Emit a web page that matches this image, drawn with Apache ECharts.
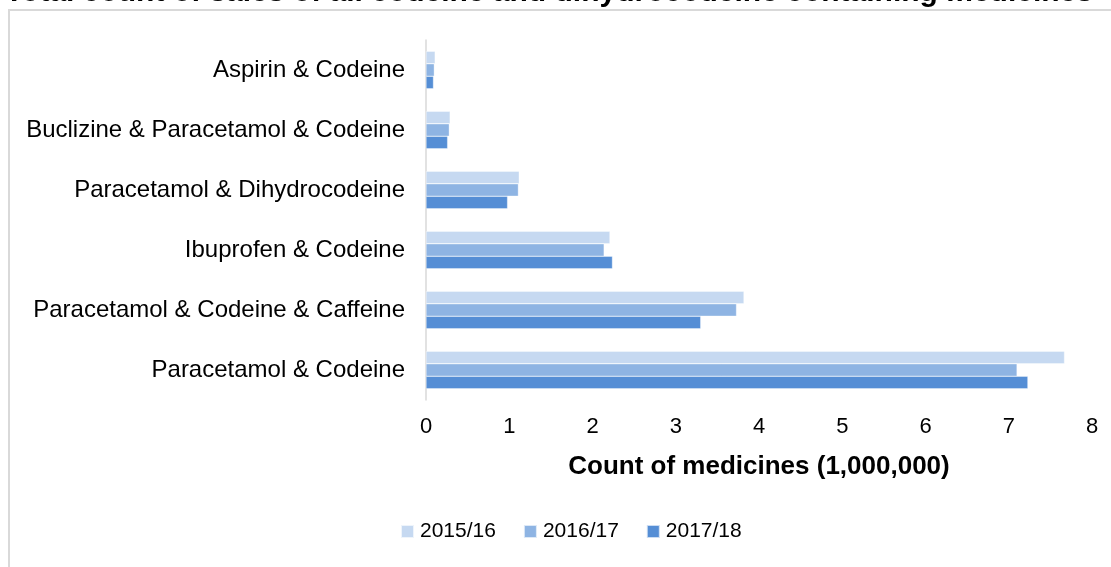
<!DOCTYPE html>
<html>
<head>
<meta charset="utf-8">
<script src="https://cdn.jsdelivr.net/npm/echarts@6/dist/echarts.min.js"></script>
<style>
  html, body { margin: 0; padding: 0; background: #fff; }
  #chart { width: 1111px; height: 567px; }
</style>
</head>
<body>
<div id="chart"></div>
<script>
// categories listed bottom to top (as drawn on the category axis)
const categories = [
  'Paracetamol & Codeine',
  'Paracetamol & Codeine & Caffeine',
  'Ibuprofen & Codeine',
  'Paracetamol & Dihydrocodeine',
  'Buclizine & Paracetamol & Codeine',
  'Aspirin & Codeine'
]
const years = ['2015/16', '2016/17', '2017/18']
const sales1516 = [7.67, 3.82, 2.21, 1.12, 0.29, 0.11]
const sales1617 = [7.10, 3.73, 2.14, 1.11, 0.28, 0.10]
const sales1718 = [7.23, 3.30, 2.24, 0.98, 0.26, 0.09]
const xTicks = [0, 1, 2, 3, 4, 5, 6, 7, 8]

const colors = ['#c6d9f1', '#8eb4e3', '#558ed5']
const font = "'Liberation Sans', Arial, sans-serif"

const chart = echarts.init(document.getElementById('chart'))

function barSeries(name, data, color) {
  return {
    name: name,
    type: 'bar',
    data: data,
    barGap: '0%',
    barCategoryGap: '37.5%',
    itemStyle: {
      color: color,
      borderColor: 'rgba(255,255,255,0.7)',
      borderWidth: 0.5
    }
  }
}

chart.setOption({
  animation: false,
  title: {
    text: 'Total count of sales of all codeine and dihydrocodeine containing medicines',
    left: 0,
    top: -27,
    textStyle: {
      fontFamily: font,
      fontWeight: 'bold',
      fontSize: 30,
      color: '#000'
    }
  },
  graphic: [
    {
      type: 'rect',
      shape: { x: 9, y: 10, width: 1200, height: 700 },
      style: { fill: 'none', stroke: '#d9d9d9', lineWidth: 2 },
      silent: true
    }
  ],
  legend: {
    data: years,
    left: 395,
    top: 516,
    itemWidth: 13,
    itemHeight: 13,
    itemGap: 27,
    icon: 'rect',
    textStyle: {
      fontFamily: font,
      fontSize: 21,
      color: '#000',
      padding: [0, 0, 0, 1]
    }
  },
  grid: {
    left: 426,
    right: 19,
    top: 40,
    bottom: 167
  },
  xAxis: {
    type: 'value',
    min: 0,
    max: xTicks[xTicks.length - 1],
    interval: 1,
    axisLine: { show: false },
    axisTick: { show: false },
    splitLine: { show: false },
    axisLabel: {
      margin: 16,
      fontFamily: font,
      fontSize: 22,
      color: '#000'
    },
    name: 'Count of medicines (1,000,000)',
    nameLocation: 'middle',
    nameGap: 54,
    nameTextStyle: {
      fontFamily: font,
      fontWeight: 'bold',
      fontSize: 26,
      color: '#000'
    }
  },
  yAxis: {
    type: 'category',
    data: categories,
    axisLine: { lineStyle: { color: '#d9d9d9', width: 1.5 } },
    axisTick: { show: false },
    axisLabel: {
      margin: 21,
      fontFamily: font,
      fontSize: 24,
      color: '#000'
    }
  },
  series: [
    barSeries(years[0], sales1516, colors[0]),
    barSeries(years[1], sales1617, colors[1]),
    barSeries(years[2], sales1718, colors[2])
  ]
})
</script>
</body>
</html>
